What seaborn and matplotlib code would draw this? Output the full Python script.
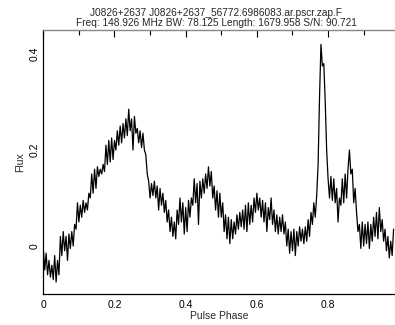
import numpy as np
import matplotlib
matplotlib.use("Agg")
import matplotlib.pyplot as plt
from matplotlib.ticker import MultipleLocator, FuncFormatter
import seaborn as sns

# Integrated pulse profile, one flux value every 0.004 in phase (0.000 .. 0.984)
flux = [
    -0.005, -0.05, -0.015, -0.06, -0.03, -0.065, -0.04, -0.07, -0.02, -0.075,
    -0.03, -0.06, 0.02, -0.02, 0.03, -0.01, 0.02, -0.03, 0.025, -0.005,
    0.03, 0.0, 0.045, 0.035, 0.09, 0.05, 0.085, 0.06, 0.095, 0.07,
    0.09, 0.075, 0.11, 0.10, 0.15, 0.11, 0.16, 0.12, 0.165, 0.145,
    0.16, 0.15, 0.17, 0.155, 0.21, 0.17, 0.22, 0.175, 0.225, 0.18,
    0.22, 0.20, 0.24, 0.21, 0.25, 0.215, 0.255, 0.225, 0.265, 0.23,
    0.285, 0.24, 0.265, 0.20, 0.27, 0.235, 0.245, 0.215, 0.24, 0.205,
    0.235, 0.20, 0.19, 0.15, 0.135, 0.10, 0.13, 0.105, 0.135, 0.10,
    0.125, 0.075, 0.12, 0.085, 0.11, 0.07, 0.095, 0.05, 0.075, 0.03,
    0.06, 0.02, 0.05, 0.015, 0.075, 0.045, 0.10, 0.05, 0.09, 0.025,
    0.08, 0.03, 0.095, 0.06, 0.10, 0.085, 0.14, 0.09, 0.13, 0.045,
    0.135, 0.10, 0.14, 0.11, 0.15, 0.12, 0.165, 0.125, 0.155, 0.10,
    0.125, 0.075, 0.115, 0.06, 0.11, 0.06, 0.09, 0.03, 0.065, 0.015,
    0.06, 0.005, 0.055, 0.015, 0.05, 0.025, 0.065, 0.035, 0.07, 0.04,
    0.075, 0.035, 0.085, 0.03, 0.09, 0.045, 0.085, 0.05, 0.10, 0.07,
    0.11, 0.075, 0.10, 0.06, 0.095, 0.05, 0.09, 0.03, 0.08, 0.055,
    0.10, 0.045, 0.075, 0.03, 0.065, 0.025, 0.06, 0.03, 0.065, 0.025,
    0.05, 0.0, 0.035, -0.015, 0.03, -0.01, 0.035, -0.02, 0.03, 0.0,
    0.04, 0.01, 0.035, 0.005, 0.04, 0.01, 0.055, 0.02, 0.07, 0.045,
    0.09, 0.06, 0.105, 0.17, 0.31, 0.42, 0.375, 0.38, 0.30, 0.20,
    0.14, 0.10, 0.145, 0.095, 0.14, 0.09, 0.12, 0.05, 0.10, 0.085,
    0.14, 0.09, 0.15, 0.10, 0.16, 0.20, 0.15, 0.16, 0.09, 0.12,
    0.07, 0.03, 0.045, -0.005, 0.05, 0.0, 0.045, 0.005, 0.05, -0.005,
    0.045, 0.01, 0.06, 0.02, 0.07, 0.015, 0.08, 0.03, 0.055, 0.01,
    0.035, -0.01, 0.02, -0.025, 0.01, -0.02, 0.035,
]
phase_step = 0.004
phase = np.arange(len(flux)) * phase_step

title_lines = [
    "J0826+2637 J0826+2637_56772.6986083.ar.pscr.zap.F",
    "Freq: 148.926 MHz BW: 78.125 Length: 1679.958 S/N: 90.721",
]
x_label = "Pulse Phase"
y_label = "Flux"

sns.set_style("white")
plt.rcParams["font.family"] = ["Liberation Sans", "DejaVu Sans"]

fig = plt.figure(figsize=(3.95, 3.25), dpi=100)
ax = fig.add_axes([0.1096, 0.0954, 0.8904, 0.8132])

sns.lineplot(x=phase, y=flux, ax=ax, color="black", linewidth=0.9,
             estimator=None, sort=False)

ax.set_xlim(0, 0.988)
ax.set_ylim(-0.1, 0.4506)

ax.xaxis.set_major_locator(MultipleLocator(0.2))
ax.xaxis.set_minor_locator(MultipleLocator(0.1))
ax.yaxis.set_major_locator(MultipleLocator(0.2))
ax.yaxis.set_minor_locator(MultipleLocator(0.1))
ax.xaxis.set_major_formatter(FuncFormatter(lambda v, p: f"{v:g}"))
ax.yaxis.set_major_formatter(FuncFormatter(lambda v, p: f"{v:g}"))

ax.tick_params(which="both", direction="in", top=True, right=False,
               colors="black", labelsize=7.5, width=0.8)
ax.tick_params(which="major", length=5)
ax.tick_params(which="minor", length=3.5)
ax.tick_params(axis="x", pad=4)
ax.tick_params(axis="y", pad=3)
for lbl in ax.get_yticklabels():
    lbl.set_rotation(90)
    lbl.set_va("center")

for side in ("left", "bottom"):
    ax.spines[side].set_color("black")
    ax.spines[side].set_linewidth(0.9)
ax.spines["top"].set_color("#888888")
ax.spines["top"].set_linewidth(1.0)
ax.spines["right"].set_visible(False)

ax.set_xlabel(x_label, fontsize=7.5, labelpad=1)
ax.set_ylabel(y_label, fontsize=7.5, labelpad=3)

fig.text(216 / 395, 1 - 13 / 325, title_lines[0], ha="center", va="center",
         fontsize=7.3)
fig.text(216 / 395, 1 - 23.5 / 325, title_lines[1], ha="center", va="center",
         fontsize=7.3)

fig.savefig("out.png", dpi=100)
